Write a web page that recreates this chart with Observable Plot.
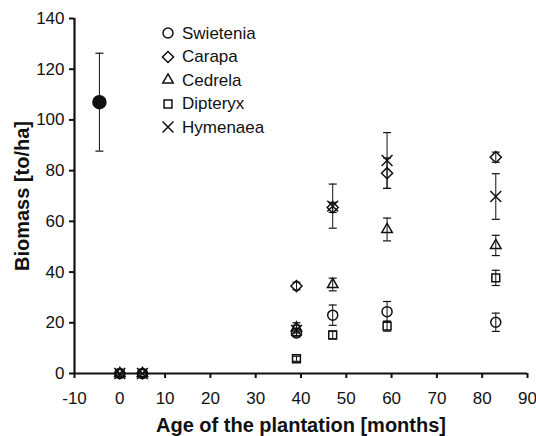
<!DOCTYPE html>
<html>
<head>
<meta charset="utf-8">
<script src="https://cdn.jsdelivr.net/npm/d3@7"></script>
<script src="https://cdn.jsdelivr.net/npm/@observablehq/plot@0.6"></script>
<style>
  body { margin: 0; background: #fff; }
  #chart { position: relative; width: 536px; height: 436px; font-family: "Liberation Sans", Arial, sans-serif; }
  #legend { position: absolute; left: 159px; top: 21.5px; font-size: 17px; color: #111; line-height: 1; }
  #legend .row { height: 23.5px; display: flex; align-items: center; }
  #legend svg { width: 18px; height: 18px; margin-right: 5px; overflow: visible; }
</style>
</head>
<body>
<div id="chart"><div id="legend"></div></div>
<script>
// Plantation species and their marker shapes
const species = ["Swietenia", "Carapa", "Cedrela", "Dipteryx", "Hymenaea"];
const symbolNames = ["circle", "diamond2", "triangle2", "square2", "times"];

// Plantation age (months)
const ages = [0, 5, 39, 47, 59, 83];

// Mean biomass (t/ha) per species at each age, and the error (±)
const swietenia    = [0, 0, 16, 23, 24.4, 20.2];
const swieteniaErr = [0, 0, 1.5, 4, 4, 3.6];
const carapa       = [0, 0, 34.5, 65.5, 79, 85.3];
const carapaErr    = [0, 0, 1.5, 2, 6, 2];
const cedrela      = [0, 0, 18, 35.1, 56.8, 50.5];
const cedrelaErr   = [0, 0, 2, 2.5, 4.5, 4];
const dipteryx     = [0, 0, 5.8, 15.2, 18.7, 37.7];
const dipteryxErr  = [0, 0, 1, 1.5, 2, 3];
const hymenaea     = [0, 0, 17, 66, 84, 69.8];
const hymenaeaErr  = [0, 0, 2, 8.7, 11, 9];

// Reference stand (filled circle)
const refAge = [-4.5];
const refBiomass = [107];
const refErr = [19.3];

// Axis ticks
const xTicks = [-10, 0, 10, 20, 30, 40, 50, 60, 70, 80, 90];
const yTicks = [0, 20, 40, 60, 80, 100, 120, 140];

const means = [swietenia, carapa, cedrela, dipteryx, hymenaea];
const errs = [swieteniaErr, carapaErr, cedrelaErr, dipteryxErr, hymenaeaErr];

const rows = species.flatMap((s, i) => ages.map((a, j) => ({
  species: s, age: a, value: means[i][j], lo: means[i][j] - errs[i][j], hi: means[i][j] + errs[i][j], err: errs[i][j]
})));
const refRows = refAge.map((a, i) => ({age: a, value: refBiomass[i], lo: refBiomass[i] - refErr[i], hi: refBiomass[i] + refErr[i], err: refErr[i]}));

const barRows = rows.filter(d => d.err > 0).concat(refRows);
const caps = barRows.flatMap(d => [{age: d.age, y: d.lo}, {age: d.age, y: d.hi}]);

// Horizontal cap for error bars
const capSymbol = {
  draw(context, size) {
    const w = Math.sqrt(size / Math.PI);
    context.moveTo(-w, 0);
    context.lineTo(w, 0);
  }
};

const ink = "#111";

const chart = Plot.plot({
  width: 536,
  height: 436,
  marginLeft: 74,
  marginRight: 9,
  marginTop: 18,
  marginBottom: 63,
  style: { fontFamily: "'Liberation Sans', Arial, sans-serif", fontSize: "17px", color: ink, background: "transparent" },
  x: { domain: [-10, 90] },
  y: { domain: [0, 140] },
  symbol: { domain: species, range: symbolNames },
  marks: [
    Plot.axisX({ ticks: xTicks, tickSize: 5, tickPadding: 13, strokeWidth: 2, tickFormat: d => String(d), label: null }),
    Plot.axisY({ ticks: yTicks, tickSize: 5, tickPadding: 5, strokeWidth: 2, tickFormat: d => String(d), label: null }),
    Plot.ruleY([0], { stroke: ink, strokeWidth: 2.2 }),
    Plot.ruleX([-10], { stroke: ink, strokeWidth: 2.2 }),
    Plot.ruleX(barRows, { x: "age", y1: "lo", y2: "hi", stroke: ink, strokeWidth: 1 }),
    Plot.dot(caps, { x: "age", y: "y", symbol: capSymbol, r: 4, stroke: ink, strokeWidth: 1.2 }),
    Plot.dot(rows, { x: "age", y: "value", symbol: "species", r: 5, stroke: ink, strokeWidth: 1.5, fill: "none" }),
    Plot.dot(refRows, { x: "age", y: "value", r: 6.5, fill: ink, stroke: ink }),
    Plot.text(["Age of the plantation [months]"], { frameAnchor: "bottom", dy: 52, textAnchor: "middle", lineAnchor: "middle", fontWeight: "bold", fontSize: 20, fill: ink }),
    Plot.text(["Biomass [to/ha]"], { frameAnchor: "left", dx: -52, rotate: -90, textAnchor: "middle", lineAnchor: "middle", fontWeight: "bold", fontSize: 20, fill: ink })
  ]
});

const container = document.getElementById("chart");
container.insertBefore(chart, container.firstChild);

// Legend: symbol + species name
const symbolTypes = {
  circle: d3.symbolCircle, diamond2: d3.symbolDiamond2, triangle2: d3.symbolTriangle2,
  square2: d3.symbolSquare2, times: d3.symbolTimes
};
const legend = d3.select("#legend");
species.forEach((s, i) => {
  const row = legend.append("div").attr("class", "row");
  const svg = row.append("svg").attr("viewBox", "-9 -9 18 18");
  svg.append("path")
    .attr("d", d3.symbol(symbolTypes[symbolNames[i]], Math.PI * 25)())
    .attr("fill", "none").attr("stroke", ink).attr("stroke-width", 1.5);
  row.append("span").text(s);
});
</script>
</body>
</html>
